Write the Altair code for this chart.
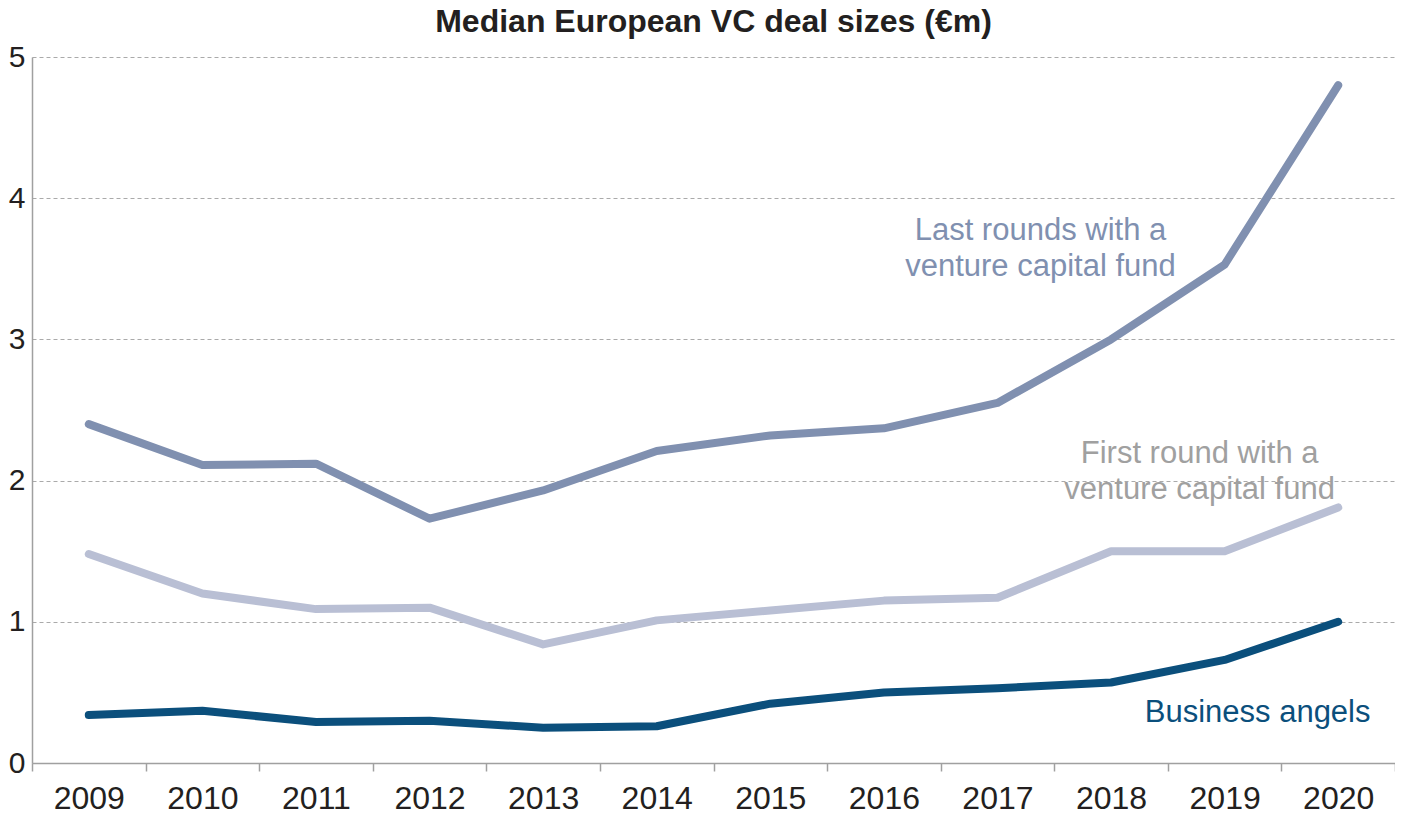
import altair as alt
import pandas as pd

years = ["2009", "2010", "2011", "2012", "2013", "2014", "2015", "2016", "2017", "2018", "2019", "2020"]
last_rounds = [2.40, 2.11, 2.12, 1.73, 1.93, 2.21, 2.32, 2.37, 2.55, 3.00, 3.53, 4.80]
first_round = [1.48, 1.20, 1.09, 1.10, 0.84, 1.01, 1.08, 1.15, 1.17, 1.50, 1.50, 1.81]
business_angels = [0.34, 0.37, 0.29, 0.30, 0.25, 0.26, 0.42, 0.50, 0.53, 0.57, 0.73, 1.00]

series_names = ["Last rounds with a venture capital fund",
                "First round with a venture capital fund",
                "Business angels"]
series_colors = ["#8090b0", "#b9bfd4", "#0b4f7c"]

rows = []
for name, vals in zip(series_names, [last_rounds, first_round, business_angels]):
    for y, v in zip(years, vals):
        rows.append({"year": y, "value": v, "series": name})
df = pd.DataFrame(rows)

labels = pd.DataFrame({
    "text": [["Last rounds with a", "venture capital fund"],
             ["First round with a", "venture capital fund"],
             ["Business angels"]],
    "year": ["2017", "2019", "2019"],
    "value": [3.77, 2.19, 0.354],
    "color": ["#8090b0", "#a0a0a0", "#0b4f7c"],
    "dx": [43, -25, 33],
})

FONT = "Liberation Sans"

x_enc = alt.X("year:O", title=None, bandPosition=0.5,
              scale=alt.Scale(type="band", paddingInner=0, paddingOuter=0, domain=years),
              axis=alt.Axis(tickBand="extent", labelAngle=0, labelFontSize=32,
                            labelColor="#231f20", labelFont=FONT, labelPadding=12,
                            tickSize=8, tickColor="#a0a0a0", tickWidth=1.5,
                            domainColor="#a0a0a0", domainWidth=1.5, grid=False))
y_enc = alt.Y("value:Q", title=None,
              scale=alt.Scale(domain=[0, 5], nice=False),
              axis=alt.Axis(values=[0, 1, 2, 3, 4, 5], format="d", labelFontSize=30,
                            labelColor="#231f20", labelFont=FONT, labelPadding=7,
                            ticks=False, domainColor="#a0a0a0", domainWidth=1.5,
                            grid=True, gridColor="#aaaaaa", gridDash=[4, 3], gridWidth=1))

lines = alt.Chart(df).mark_line(strokeWidth=8, strokeCap="round", strokeJoin="round").encode(
    x=x_enc,
    y=y_enc,
    color=alt.Color("series:N", scale=alt.Scale(domain=series_names, range=series_colors), legend=None),
)

texts = []
for i in range(len(labels)):
    sub = labels.iloc[[i]]
    texts.append(
        alt.Chart(sub).mark_text(font=FONT, fontSize=31, align="center", baseline="middle",
                                 dx=int(sub["dx"].iloc[0]), lineHeight=36,
                                 color=sub["color"].iloc[0]).encode(
            x=alt.X("year:O", bandPosition=0.5),
            y=alt.Y("value:Q"),
            text="text",
        )
    )

chart = alt.layer(lines, *texts).properties(
    width=1363, height=706,
    autosize=alt.AutoSizeParams(type="none"),
    padding={"left": 24, "top": 49, "right": 0, "bottom": 52},
    title=alt.Title("Median European VC deal sizes (€m)", font=FONT, fontSize=32,
                    fontWeight="bold", color="#231f20", anchor="middle", frame="group", offset=3),
).configure_view(stroke=None)

chart.save("out.html", embed_options={"renderer": "svg", "actions": False})
